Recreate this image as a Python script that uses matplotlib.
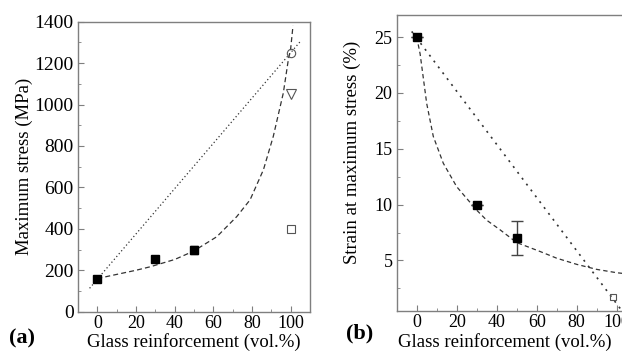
import numpy as np
import matplotlib
matplotlib.use("Agg")
import matplotlib.pyplot as plt
from matplotlib.ticker import MultipleLocator

plt.rcParams['font.family'] = ['Liberation Serif', 'DejaVu Serif']
plt.rcParams['mathtext.fontset'] = 'stix'

# ---- panel (a): maximum stress ----
a_x = [0, 30, 50]
a_y = [157, 255, 297]
a_err = [0, 0, 18]
# open symbols at 100 vol.%
a_circle = (100, 1250)
a_tri = (100, 1050)
a_sq = (100, 400)
# dotted straight line (rule of mixtures)
a_lin_x = [-4, 105.3]
a_lin_y = [113, 1308]
# dashed curve
a_cur_x = [0, 10, 20, 27.4, 40, 49.7, 61.8, 72.1, 79, 85.9, 91, 96.2, 98.8, 100, 101.2]
a_cur_y = [160, 180, 200, 217, 252, 292, 362, 459, 540, 685, 846, 1056, 1217, 1270, 1380]

# ---- panel (b): strain at maximum stress ----
b_x = [0, 30, 50]
b_y = [25, 10, 7]
b_err = [0, 0, 1.5]
b_sq = (98, 1.7)
b_lin_x = [-2.5, 103]
b_lin_y = [25.5, 0.4]
b_cur_x = [0, 1.7, 5, 8.3, 13.3, 20, 30, 35, 41.7, 50, 61.7, 70, 80, 90, 100, 110]
b_cur_y = [25, 23.5, 19.05, 16.1, 13.7, 11.6, 9.5, 8.6, 7.74, 6.6, 5.8, 5.2, 4.65, 4.2, 3.9, 3.7]

fig = plt.figure(figsize=(6.22, 3.54), dpi=100)

spine_col = '#7f7f7f'
line_col = '#333333'
tick_fs = 13
label_fs = 13.5


def style(ax):
    for s in ax.spines.values():
        s.set_color(spine_col)
        s.set_linewidth(1.0)
    ax.tick_params(which='both', direction='in', top=False, right=False,
                   colors=spine_col, labelcolor='black', labelsize=tick_fs, pad=3)
    ax.tick_params(axis='x', pad=2.5)
    ax.tick_params(which='major', length=4)
    ax.tick_params(which='minor', length=2.5)


# panel (a)
ax1 = fig.add_axes([78 / 622, 1 - 311.7 / 354, 232 / 622, 290 / 354])
ax1.plot(a_lin_x, a_lin_y, color=line_col, lw=0.9, ls=(0, (1, 2)))
ax1.plot(a_cur_x, a_cur_y, color=line_col, lw=0.9, ls=(0, (4, 2.5)))
ax1.errorbar(a_x, a_y, yerr=a_err, fmt='s', color='black', ms=6,
             ecolor='#444444', elinewidth=1, capsize=3, capthick=1)
ax1.plot(*a_circle, 'o', mfc='none', mec='#555555', ms=6, mew=0.8)
ax1.plot(*a_tri, 'v', mfc='none', mec='#555555', ms=7, mew=0.8)
ax1.plot(*a_sq, 's', mfc='none', mec='#555555', ms=5.5, mew=0.8)
ax1.set_xlim(-10, 110)
ax1.set_ylim(0, 1400)
ax1.xaxis.set_major_locator(MultipleLocator(20))
ax1.xaxis.set_minor_locator(MultipleLocator(10))
ax1.yaxis.set_major_locator(MultipleLocator(200))
ax1.yaxis.set_minor_locator(MultipleLocator(100))
style(ax1)
ax1.tick_params(axis='y', labelsize=14)
ax1.set_xlabel('Glass reinforcement (vol.%)', fontsize=label_fs)
ax1.set_ylabel('Maximum stress (MPa)', fontsize=label_fs)
ax1.xaxis.set_label_coords(0.5, -0.0734)
ax1.yaxis.set_label_coords(-0.194, 0.5)

# panel (b) - extends past the right edge of the figure
ax2 = fig.add_axes([396.7 / 622, 1 - 310.7 / 354, 240 / 622, 296 / 354])
ax2.plot(b_lin_x, b_lin_y, color=line_col, lw=1.2, ls=(0, (1.2, 3.2)))
ax2.plot(b_cur_x, b_cur_y, color=line_col, lw=0.9, ls=(0, (3.5, 2.5)))
ax2.errorbar(b_x, b_y, yerr=b_err, fmt='s', color='black', ms=6,
             ecolor='#444444', elinewidth=1, capsize=4, capthick=1)
ax2.plot(*b_sq, 's', mfc='none', mec='#555555', ms=5, mew=0.8)
ax2.set_xlim(-10, 110)
ax2.set_ylim(0.5, 27)
ax2.xaxis.set_major_locator(MultipleLocator(20))
ax2.xaxis.set_minor_locator(MultipleLocator(10))
ax2.yaxis.set_major_locator(MultipleLocator(5))
ax2.yaxis.set_minor_locator(MultipleLocator(2.5))
style(ax2)
ax2.set_xlabel('Glass reinforcement (vol.%)', fontsize=label_fs)
ax2.set_ylabel('Strain at maximum stress (%)', fontsize=label_fs)
ax2.xaxis.set_label_coords(0.45, -0.0753)
ax2.yaxis.set_label_coords(-0.149, 0.535)

fig.text(9 / 622, 1 - 338 / 354, '(a)', fontsize=16, fontweight='bold', va='center', ha='left')
fig.text(346 / 622, 1 - 333 / 354, '(b)', fontsize=16, fontweight='bold', va='center', ha='left')

fig.savefig('out.png', dpi=100)
